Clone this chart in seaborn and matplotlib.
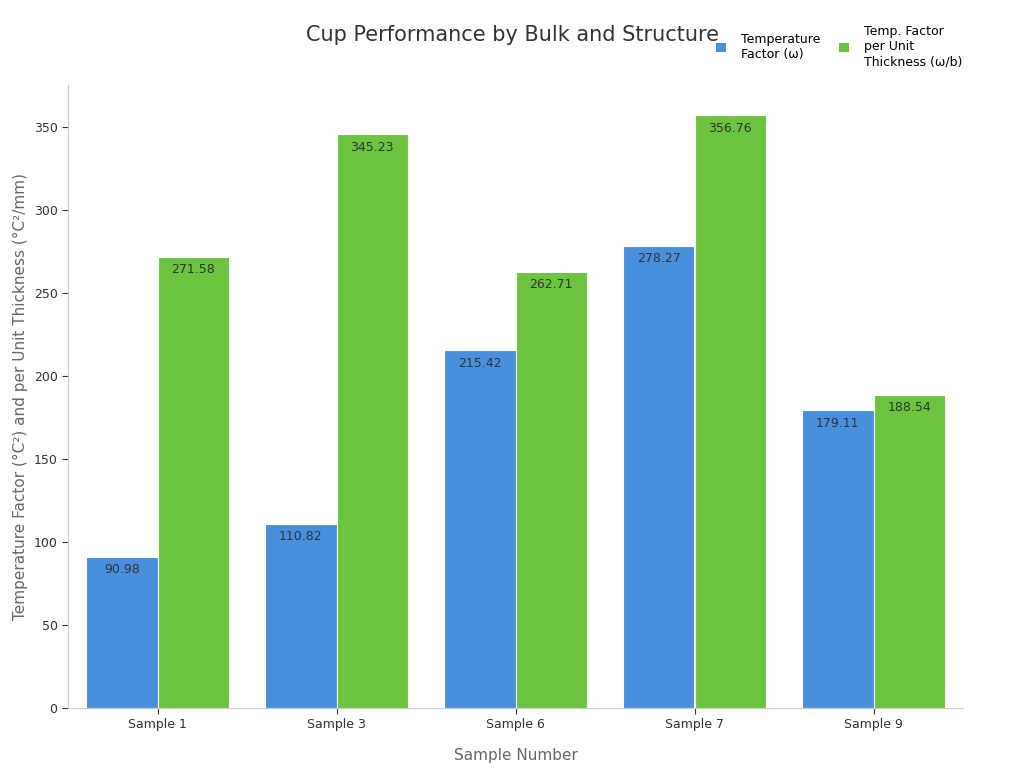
import matplotlib
matplotlib.use("Agg")
import matplotlib.pyplot as plt
import seaborn as sns
import pandas as pd

samples = ["Sample 1", "Sample 3", "Sample 6", "Sample 7", "Sample 9"]
temp_factor = [90.98, 110.82, 215.42, 278.27, 179.11]
temp_per_thick = [271.58, 345.23, 262.71, 356.76, 188.54]
series_names = ["Temperature\nFactor (ω)", "Temp. Factor\nper Unit\nThickness (ω/b)"]

df = pd.DataFrame({
    "Sample": samples * 2,
    "Value": temp_factor + temp_per_thick,
    "Series": [series_names[0]] * len(samples) + [series_names[1]] * len(samples),
})

fig = plt.figure(figsize=(10.24, 7.68), dpi=100)
ax = fig.add_axes([68/1024, 60/768, 895/1024, 623/768])
sns.barplot(data=df, x="Sample", y="Value", hue="Series",
            palette=["#2F8FF7", "#66DA26"], edgecolor="white", linewidth=0.8,
            width=0.8, ax=ax, legend=True)
for c in ax.containers:
    ax.bar_label(c, fmt="%.2f", padding=-14, fontsize=9, color="#333333")
ax.set_ylim(0, 375)
ax.set_yticks(range(0, 351, 50))
ax.set_xlabel("Sample Number", fontsize=11, color="#666666", labelpad=12)
ax.set_ylabel("Temperature Factor (°C²) and per Unit Thickness (°C²/mm)", fontsize=11, color="#666666")
ax.tick_params(labelsize=9, colors="#333333", length=4)
for s in ["top", "right"]:
    ax.spines[s].set_visible(False)
for s in ["left", "bottom"]:
    ax.spines[s].set_color("#cccccc")
fig.text(512/1024, 1-35/768, "Cup Performance by Bulk and Structure", ha="center", va="center",
         fontsize=15, color="#333333")
leg = ax.legend(loc="upper left", bbox_to_anchor=(705/1024, 1-14/768), bbox_transform=fig.transFigure,
                ncol=2, frameon=False, fontsize=9, handlelength=0.8, handleheight=0.8,
                columnspacing=1.5, handletextpad=1.2)
for h in leg.legend_handles:
    h.set_edgecolor("none")
fig.savefig("out.png", dpi=100)
